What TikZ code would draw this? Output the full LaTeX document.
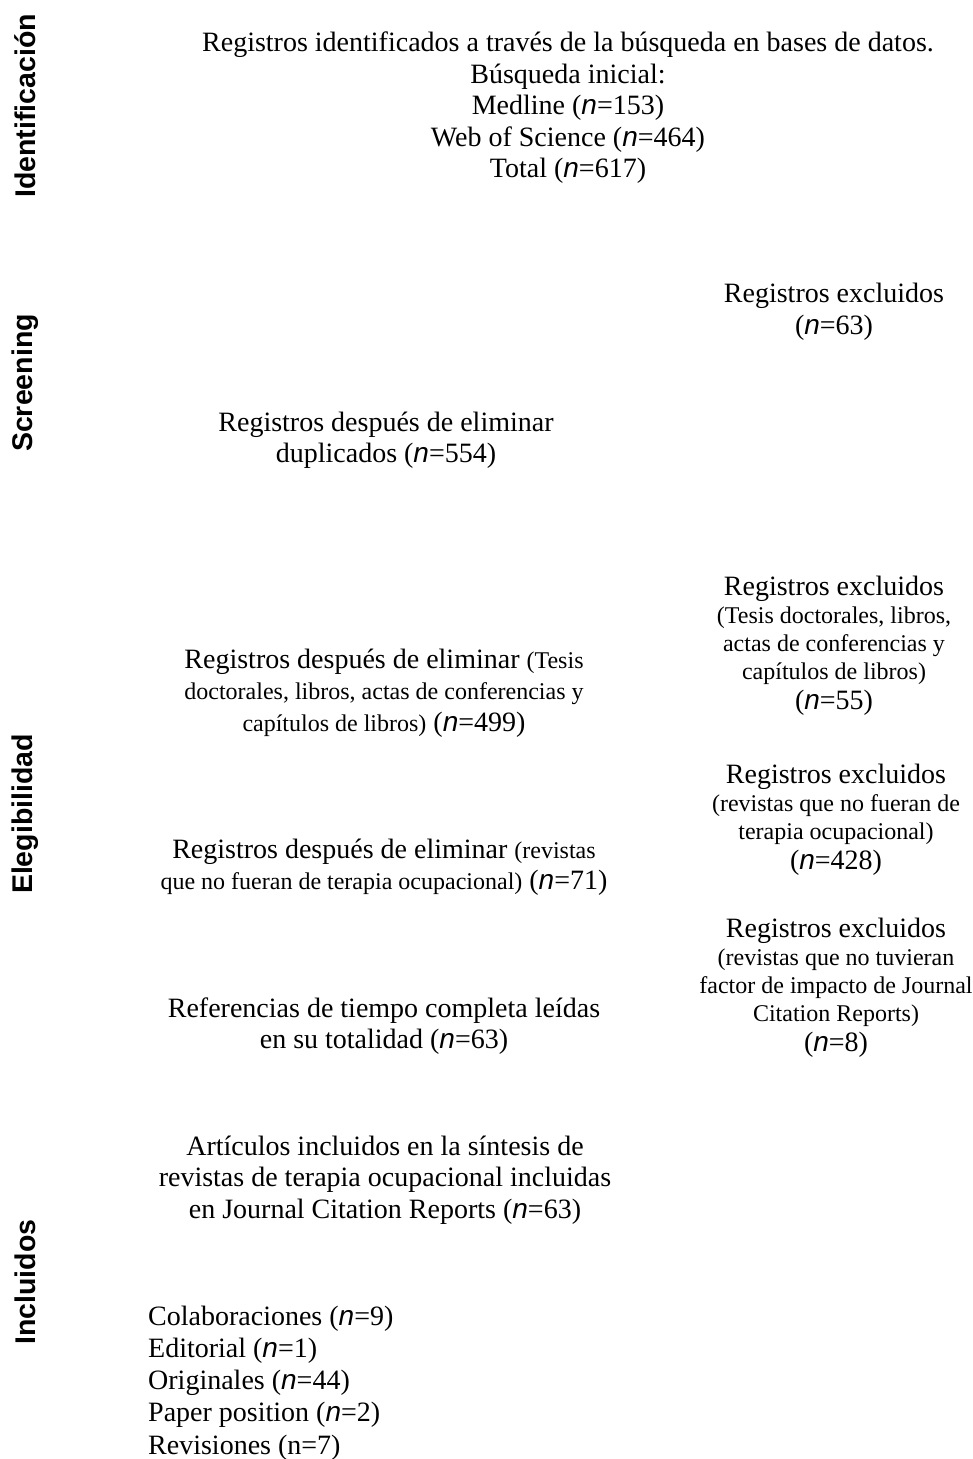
\documentclass[tikz,border=0pt]{standalone}
\usepackage{fontspec}
\setmainfont{Liberation Serif}
\setsansfont{Liberation Sans}
\newfontfamily\sidefont{Liberation Sans}
\newcommand{\nn}{{\sffamily\itshape n}}
\newcommand{\sm}[1]{{\fontsize{24}{28}\selectfont #1}}
\tikzset{
  txt/.style={inner sep=0pt, align=center, font=\fontsize{28}{31.5}\selectfont},
  smtxt/.style={inner sep=0pt, align=center, font=\fontsize{24}{28}\selectfont},
  listtxt/.style={inner sep=0pt, align=left, anchor=west, font=\fontsize{28}{32.2}\selectfont},
  side/.style={inner sep=0pt, rotate=90, font=\sidefont\bfseries\fontsize{28.5}{30}\selectfont}
}
\begin{document}
\begin{tikzpicture}[x=1pt,y=-1pt]
\useasboundingbox (0,0) rectangle (973,1459);
% side labels
\node[side] (s1) at (25,106) {Identificación};
\node[side] (s2) at (25,383) {Screening};
\node[side] (s3) at (25,814) {Elegibilidad};
\node[side] (s4) at (25,1282) {Incluidos};
% main column
\node[txt] (a) at (568,108) {Registros identificados a través de la búsqueda en bases de datos.\\
Búsqueda inicial:\\ Medline (\nn=153)\\ Web of Science (\nn=464)\\ Total (\nn=617)};
\node[txt] (c) at (386,440) {Registros después de eliminar\\ duplicados (\nn=554)};
\node[txt] (e) at (384,693) {Registros después de eliminar \sm{(Tesis}\\
\sm{doctorales, libros, actas de conferencias y}\\
\sm{capítulos de libros)} (\nn=499)};
\node[txt] (g) at (384,867) {Registros después de eliminar \sm{(revistas}\\
\sm{que no fueran de terapia ocupacional)} (\nn=71)};
\node[txt] (i) at (384,1026) {Referencias de tiempo completa leídas\\ en su totalidad (\nn=63)};
\node[txt] (j) at (385,1180) {Artículos incluidos en la síntesis de\\
revistas de terapia ocupacional incluidas\\ en Journal Citation Reports (\nn=63)};
\node[listtxt] (k) at (148,1383) {Colaboraciones (\nn=9)\\ Editorial (\nn=1)\\ Originales (\nn=44)\\ Paper position (\nn=2)\\ Revisiones (n=7)};
% right column
\node[txt] (b) at (834,312) {Registros excluidos\\ (\nn=63)};
\node[smtxt] (d) at (834,646) {{\fontsize{28}{28}\selectfont Registros excluidos}\\
(Tesis doctorales, libros,\\ actas de conferencias y\\ capítulos de libros)\\[2pt]
{\fontsize{28}{28}\selectfont (\nn=55)}};
\node[smtxt] (f) at (836,820) {{\fontsize{28}{28}\selectfont Registros excluidos}\\
(revistas que no fueran de\\ terapia ocupacional)\\[2pt]
{\fontsize{28}{28}\selectfont (\nn=428)}};
\node[smtxt] (h) at (836,988) {{\fontsize{28}{28}\selectfont Registros excluidos}\\
(revistas que no tuvieran\\ factor de impacto de Journal\\ Citation Reports)\\[2pt]
{\fontsize{28}{28}\selectfont (\nn=8)}};
\end{tikzpicture}
\end{document}
